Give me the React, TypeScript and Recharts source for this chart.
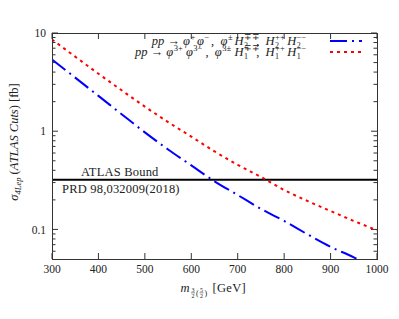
import React from 'react';
import { LineChart, Line, XAxis, YAxis, ReferenceLine, Legend } from 'recharts';

// mass points [GeV] and cross sections [fb]
const masses = [300, 350, 400, 450, 500, 550, 600, 650, 700, 750, 800, 850, 900, 950, 1000];
const sigmaH2 = [5.37, 3.51, 2.29, 1.49, 0.973, 0.652, 0.449, 0.309, 0.224, 0.162, 0.122, 0.0893, 0.0665, 0.052, 0.0385];
const sigmaH1 = [8.59, 5.74, 3.85, 2.61, 1.78, 1.24, 0.881, 0.624, 0.455, 0.342, 0.252, 0.195, 0.154, 0.122, 0.098];
const atlasBound = 0.32;

const massTicks = [300, 400, 500, 600, 700, 800, 900, 1000];
const sigmaMajorTicks = [0.1, 1, 10];
const sigmaMinorTicks = [0.06, 0.07, 0.08, 0.09, 0.2, 0.3, 0.4, 0.5, 0.6, 0.7, 0.8, 0.9, 2, 3, 4, 5, 6, 7, 8, 9];

const data = masses.map((m, i) => ({ m, h2: sigmaH2[i], h1: sigmaH1[i] }));

// layout
const CHART_W = 383;
const CHART_H = 303;
const MARGIN = { top: 25, right: 14, bottom: 0, left: 0 };
const Y_AXIS_W = 44;
const X_AXIS_H = 52;
const TICK_GAP = 6;
const PLOT_W = CHART_W - MARGIN.left - MARGIN.right - Y_AXIS_W;
const PLOT_H = CHART_H - MARGIN.top - MARGIN.bottom - X_AXIS_H;
const X_DOMAIN: [number, number] = [300, 1000];
const Y_DOMAIN: [number, number] = [0.05, 10];

// tick lengths in px, turned into data units so the scales place them
const MAJOR_PX = 6;
const MINOR_PX = 3.5;
const dxFor = (px: number) => (px / PLOT_W) * (X_DOMAIN[1] - X_DOMAIN[0]);
const yFactorFor = (px: number) => Math.pow(Y_DOMAIN[1] / Y_DOMAIN[0], px / PLOT_H);

const FONT = '"Liberation Serif", "Times New Roman", serif';
const INK = '#222';
const FRAME = '#333';
const BLUE = '#0000ff';
const RED = '#ff0000';
const BLUE_DASH = '17 5 2 5';
const RED_DASH = '3 4';

const XTick = (p: any) => (
  <text x={p.x} y={p.y} dy="0.72em" textAnchor="middle" fontFamily={FONT} fontSize={11.5} fill={INK}>
    {p.payload.value}
  </text>
);

const YTick = (p: any) => (
  <text x={p.x} y={p.y} dy="0.36em" textAnchor="end" fontFamily={FONT} fontSize={11.5} fill={INK}>
    {p.payload.value}
  </text>
);

// TeX-like scripts: superscript and/or subscript stacked after a symbol
function SS({ sup, sub }: { sup?: string; sub?: string }) {
  const w = Math.max(sup ? sup.length : 0, sub ? sub.length : 0) * 5.6 + 1.5;
  const s = { position: 'absolute' as const, left: 0.5, fontSize: 8.5, lineHeight: 0.9, fontStyle: 'normal' };
  return (
    <span style={{ position: 'relative', display: 'inline-block', width: w, height: 10 }}>
      {sup && <span style={{ ...s, top: -1 }}>{sup}</span>}
      {sub && <span style={{ ...s, top: 7.3, fontSize: 8 }}>{sub}</span>}
    </span>
  );
}

const SEP = ',\u2002';

function LegendRow({ color, dash, children }: { color: string; dash: string; children: React.ReactNode }) {
  return (
    <div style={{ display: 'flex', justifyContent: 'flex-end', alignItems: 'center', height: 11.6 }}>
      <span style={{ whiteSpace: 'nowrap', fontFamily: FONT, fontSize: 12.5, color: INK, lineHeight: '11.6px' }}>
        {children}
      </span>
      <svg width={32} height={6} style={{ marginLeft: 21, marginRight: 6 }}>
        <line x1={0} y1={3} x2={32} y2={3} stroke={color} strokeWidth={2} strokeDasharray={dash} />
      </svg>
    </div>
  );
}

const renderLegend = () => (
  <div>
    <LegendRow color={BLUE} dash={BLUE_DASH}>
      <i>pp</i> → <i>φ</i><SS sup="+" /><i>φ</i><SS sup="−" />{SEP}<i>φ</i><SS sup="±" /><i>H</i>
      <SS sup="∓∓" sub="2" />{SEP}<i>H</i><SS sup="++" sub="2" /><i>H</i><SS sup="−−" sub="2" />
    </LegendRow>
    <LegendRow color={RED} dash={RED_DASH}>
      <i>pp</i> → <i>φ</i><SS sup="3+" /><i>φ</i><SS sup="3−" />{SEP}<i>φ</i><SS sup="3±" /><i>H</i>
      <SS sup="∓∓" sub="1" />{SEP}<i>H</i><SS sup="++" sub="1" /><i>H</i><SS sup="−−" sub="1" />
    </LegendRow>
  </div>
);

const renderAtlasLabel = (props: any) => {
  const { x, y } = props.viewBox;
  return (
    <g fontFamily={FONT} fontSize={12.5} fill={INK} letterSpacing={0.2}>
      <text x={x + 29} y={y - 3.5}>ATLAS Bound</text>
      <text x={x + 10} y={y + 13.5}>PRD 98,032009(2018)</text>
    </g>
  );
};

const renderXLabel = (props: any) => {
  const { x, y, width } = props.viewBox;
  const ox = x + width / 2 - 34;
  const oy = y + 33;
  const frac = (cx: number, num: string, den: string) => (
    <g>
      <text x={cx} y={oy - 0.5} fontSize={6} textAnchor="middle">{num}</text>
      <line x1={cx - 2} y1={oy + 0.8} x2={cx + 2} y2={oy + 0.8} stroke={INK} strokeWidth={0.5} />
      <text x={cx} y={oy + 5.5} fontSize={6} textAnchor="middle">{den}</text>
    </g>
  );
  return (
    <g fontFamily={FONT} fill={INK}>
      <text x={ox} y={oy} fontSize={12.5} fontStyle="italic">m</text>
      {frac(ox + 12.5, '3', '2')}
      <text x={ox + 15.5} y={oy + 3.5} fontSize={8}>(</text>
      {frac(ox + 21, '5', '2')}
      <text x={ox + 24} y={oy + 3.5} fontSize={8}>)</text>
      <text x={ox + 32} y={oy} fontSize={12.5} letterSpacing={0.3}>[GeV]</text>
    </g>
  );
};

const renderYLabel = (props: any) => {
  const { y, height } = props.viewBox;
  const cx = 10;
  const cy = y + height / 2 - 4;
  return (
    <text
      x={cx}
      y={cy}
      transform={`rotate(-90, ${cx}, ${cy})`}
      textAnchor="middle"
      fontFamily={FONT}
      fontSize={12.5}
      fill={INK}
    >
      <tspan fontStyle="italic">σ</tspan>
      <tspan fontStyle="italic" fontSize={8.5} dy={2.5}>4Lep</tspan>
      <tspan dy={-2.5}> (</tspan>
      <tspan fontStyle="italic">ATLAS Cuts</tspan>
      <tspan>) [fb]</tspan>
    </text>
  );
};

function tickSegments() {
  const segs: { key: string; seg: { x: number; y: number }[] }[] = [];
  const [x0, x1] = X_DOMAIN;
  const [y0, y1] = Y_DOMAIN;
  const fx = yFactorFor(MAJOR_PX);
  massTicks.forEach((m) => {
    segs.push({ key: `xb${m}`, seg: [{ x: m, y: y0 }, { x: m, y: y0 * fx }] });
    segs.push({ key: `xt${m}`, seg: [{ x: m, y: y1 }, { x: m, y: y1 / fx }] });
  });
  const addY = (v: number, px: number) => {
    const d = dxFor(px);
    segs.push({ key: `yl${v}`, seg: [{ x: x0, y: v }, { x: x0 + d, y: v }] });
    segs.push({ key: `yr${v}`, seg: [{ x: x1 - d, y: v }, { x: x1, y: v }] });
  };
  sigmaMajorTicks.forEach((v) => addY(v, MAJOR_PX));
  sigmaMinorTicks.forEach((v) => addY(v, MINOR_PX));
  return segs;
}

export default function App() {
  return (
    <div style={{ position: 'relative', width: CHART_W, height: CHART_H }}>
      <LineChart width={CHART_W} height={CHART_H} data={data} margin={MARGIN}>
        <XAxis
          xAxisId="x"
          dataKey="m"
          type="number"
          domain={X_DOMAIN}
          allowDataOverflow
          ticks={massTicks}
          interval={0}
          tickLine={false}
          tickSize={0}
          tickMargin={TICK_GAP}
          height={X_AXIS_H}
          axisLine={false}
          tick={XTick}
          label={renderXLabel}
        />
        <YAxis
          yAxisId="y"
          type="number"
          scale="log"
          domain={Y_DOMAIN}
          allowDataOverflow
          ticks={sigmaMajorTicks}
          interval={0}
          tickLine={false}
          tickSize={0}
          tickMargin={TICK_GAP}
          width={Y_AXIS_W}
          axisLine={false}
          tick={YTick}
          label={renderYLabel}
        />

        {/* inward, mirrored ticks */}
        {tickSegments().map((t) => (
          <ReferenceLine
            key={t.key}
            xAxisId="x"
            yAxisId="y"
            segment={t.seg}
            stroke={FRAME}
            strokeWidth={1}
          />
        ))}

        <ReferenceLine xAxisId="x" yAxisId="y" y={atlasBound} stroke="#000" strokeWidth={2} label={renderAtlasLabel} />

        <Line
          xAxisId="x"
          yAxisId="y"
          dataKey="h2"
          name="h2"
          type="monotone"
          stroke={BLUE}
          strokeWidth={2}
          strokeDasharray={BLUE_DASH}
          dot={false}
          isAnimationActive={false}
        />
        <Line
          xAxisId="x"
          yAxisId="y"
          dataKey="h1"
          name="h1"
          type="monotone"
          stroke={RED}
          strokeWidth={2}
          strokeDasharray={RED_DASH}
          dot={false}
          isAnimationActive={false}
        />
        <Legend
          layout="vertical"
          align="center"
          verticalAlign="middle"
          wrapperStyle={{ left: 0, top: 27, width: 360 }}
          content={renderLegend}
        />
      </LineChart>
      {/* plot frame */}
      <div
        style={{
          position: 'absolute',
          left: MARGIN.left + Y_AXIS_W - 0.5,
          top: MARGIN.top - 0.5,
          width: PLOT_W + 1,
          height: PLOT_H + 1,
          border: `1.2px solid ${FRAME}`,
          boxSizing: 'border-box',
          pointerEvents: 'none',
        }}
      />
    </div>
  );
}
